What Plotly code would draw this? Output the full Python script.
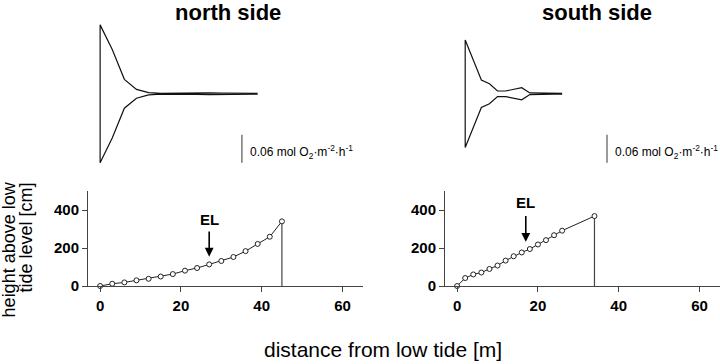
import plotly.graph_objects as go

# ---- data ----
# bottom panels: height above low tide level [cm] vs distance from low tide [m]
north_dist = [0, 3, 6, 9, 12, 15, 18, 21, 24, 27, 30, 33, 36, 39, 42, 45]
north_height = [0, 12, 19, 30, 38, 50, 63, 81, 95, 114, 132, 153, 184, 222, 260, 341]
south_dist = [0, 2, 4, 6, 8, 10, 12, 14, 16, 18, 20, 22, 24, 26, 34]
south_height = [0, 42, 61, 71, 90, 108, 134, 157, 177, 195, 219, 242, 268, 292, 369]

# top panels: kite diagrams (full width in mol O2 m-2 h-1)
north_kite_dist = [0, 3, 6, 9, 12, 15, 18, 21, 24, 27, 30, 33, 36, 39]
north_kite_rate = [0.296, 0.19, 0.062, 0.019, 0.005, 0.0015, 0.001, 0.0015, 0.003, 0.004, 0.003, 0.002, 0.001, 0.0015]
south_kite_dist = [2, 4, 6, 8, 10, 12, 14, 16, 18, 20, 22, 24, 26]
south_kite_rate = [0.231, 0.146, 0.059, 0.043, 0.012, 0.012, 0.018, 0.026, 0.0035, 0.002, 0.0015, 0.0015, 0.0015]

x_ticks = [0, 20, 40, 60]
y_ticks = [0, 200, 400]
scale_value = 0.06
el_north = 27
el_south = 17

FONT = "Liberation Sans, Arial, Helvetica, sans-serif"
LINE = "#222222"
AX = "#444444"
K = 1.02  # vertical calibration


def py(px):
    return 1 - (px * K) / 364


fig = go.Figure()


def kite(xs, ws, xa, ya):
    half = [w / 2 for w in ws]
    x = list(reversed(xs)) + list(xs)
    y = list(reversed(half)) + [-h for h in half]
    fig.add_trace(go.Scatter(x=x, y=y, mode="lines", xaxis=xa, yaxis=ya,
                             line=dict(color="#111111", width=1.2),
                             hoverinfo="skip", showlegend=False))


def profile(xs, ys, xa, ya):
    fig.add_trace(go.Scatter(x=[xs[-1], xs[-1]], y=[0, ys[-1]], mode="lines",
                             xaxis=xa, yaxis=ya, line=dict(color=AX, width=1.2),
                             showlegend=False, hoverinfo="skip"))
    fig.add_trace(go.Scatter(x=xs, y=ys, mode="lines+markers", xaxis=xa, yaxis=ya,
                             line=dict(color=LINE, width=1),
                             marker=dict(symbol="circle", size=5, color="white",
                                         line=dict(color=LINE, width=1)),
                             cliponaxis=False, showlegend=False))


profile(north_dist, north_height, "x", "y")
profile(south_dist, south_height, "x2", "y2")
kite(north_kite_dist, north_kite_rate, "x3", "y3")
kite(south_kite_dist, south_kite_rate, "x4", "y4")

xr = [-3, 65]
dom_l = [88 / 720, 362.7 / 720]
dom_r = [445 / 720, 719.7 / 720]
dom_bot = [py(286.7), py(191.7)]
dom_top = [py(168), py(20)]
kr = 74 / 466.7

xbot = dict(range=xr, tickvals=x_ticks, showline=True, linecolor=AX, linewidth=1,
            ticks="outside", ticklen=5, tickcolor=AX, showgrid=False, zeroline=False,
            tickfont=dict(family=FONT, size=15, color="black", weight="bold"),
            ticklabelstandoff=1)
ybot = dict(range=[0, 500], tickvals=y_ticks, showline=True, linecolor=AX, linewidth=1,
            ticks="outside", ticklen=5, tickcolor=AX, showgrid=False, zeroline=False,
            tickfont=dict(family=FONT, size=15, color="black", weight="bold"),
            ticklabelstandoff=0)
hidden = dict(visible=False, showgrid=False, zeroline=False)

fig.update_layout(
    width=720, height=364, margin=dict(l=0, r=0, t=0, b=0),
    paper_bgcolor="white", plot_bgcolor="white", showlegend=False,
    font=dict(family=FONT, color="black"),
    xaxis=dict(domain=dom_l, anchor="y", **xbot),
    yaxis=dict(domain=dom_bot, anchor="x", **ybot),
    xaxis2=dict(domain=dom_r, anchor="y2", **xbot),
    yaxis2=dict(domain=dom_bot, anchor="x2", **ybot),
    xaxis3=dict(domain=dom_l, anchor="y3", range=xr, **hidden),
    yaxis3=dict(domain=dom_top, anchor="x3", range=[-kr, kr], **hidden),
    xaxis4=dict(domain=dom_r, anchor="y4", range=xr, **hidden),
    yaxis4=dict(domain=dom_top, anchor="x4", range=[-kr, kr], **hidden),
)

# scale bars
for xa, ya, xb in [("x3", "y3", 35.1), ("x4", "y4", 37.1)]:
    fig.add_shape(type="line", xref=xa, yref=ya, x0=xb, x1=xb,
                  y0=-0.148, y1=-0.148 + scale_value, line=dict(color="#555555", width=1.2))
    fig.add_annotation(xref=xa, yref=ya, x=xb + 1.5, y=-0.126, xanchor="left", yanchor="middle",
                       text="0.06 mol O<sub>2</sub>·m<sup>-2</sup>·h<sup>-1</sup>",
                       showarrow=False, font=dict(size=12, family=FONT))

# titles
fig.add_annotation(xref="paper", yref="paper", x=228 / 720, y=py(13), text="<b>north side</b>",
                   showarrow=False, xanchor="center", yanchor="middle", font=dict(size=22, family=FONT))
fig.add_annotation(xref="paper", yref="paper", x=597 / 720, y=py(13), text="<b>south side</b>",
                   showarrow=False, xanchor="center", yanchor="middle", font=dict(size=22, family=FONT))

# EL arrows
for xa, ya, xe, y_head, y_tail, y_text in [("x", "y", el_north, 155, 296, 352),
                                            ("x2", "y2", el_south, 233, 377, 438)]:
    fig.add_annotation(xref=xa, yref=ya, x=xe, y=y_head, ax=xe, ay=y_tail, axref=xa, ayref=ya,
                       text="", showarrow=True, arrowhead=2, arrowsize=1.1, arrowwidth=1.6,
                       arrowcolor="black")
    fig.add_annotation(xref=xa, yref=ya, x=xe, y=y_text, text="<b>EL</b>", showarrow=False,
                       font=dict(size=15, family=FONT), xanchor="center", yanchor="middle")

# axis titles
fig.add_annotation(xref="paper", yref="paper", x=383 / 720, y=py(350),
                   text="distance from low tide [m]", showarrow=False,
                   xanchor="center", yanchor="middle", font=dict(size=21, family=FONT))
fig.add_annotation(xref="paper", yref="paper", x=9 / 720, y=py(250),
                   text="height above low", textangle=-90, showarrow=False,
                   xanchor="center", yanchor="middle", font=dict(size=18, family=FONT))
fig.add_annotation(xref="paper", yref="paper", x=26 / 720, y=py(238),
                   text="tide level [cm]", textangle=-90, showarrow=False,
                   xanchor="center", yanchor="middle", font=dict(size=18, family=FONT))

fig.write_html(
    "out.html",
    config={"displayModeBar": False},
    post_script=(
        "document.documentElement.style.margin='0';"
        "document.documentElement.style.overflow='hidden';"
        "document.body.style.margin='0';"
        "document.body.style.overflow='hidden';"
        "document.body.style.height='364px';"
    ),
)
